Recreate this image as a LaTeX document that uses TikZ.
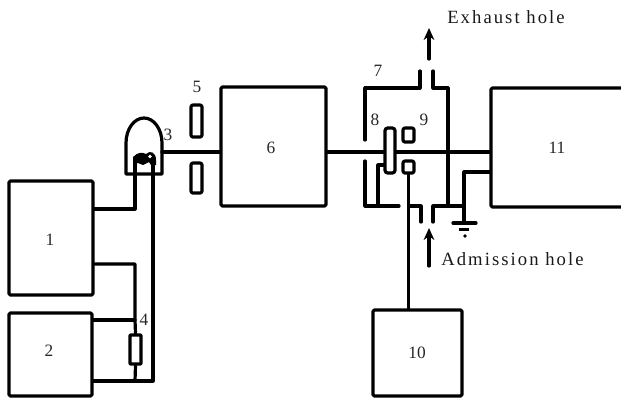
\documentclass[tikz,border=0pt]{standalone}
\usepackage{fontspec}
\setmainfont{Liberation Serif}
\usetikzlibrary{fit,arrows.meta}
\tikzset{
  ink/.style={line width=2.4pt,black,line join=round,line cap=round},
  blockbox/.style={ink,draw,inner sep=0pt,rounded corners=1pt},
  slit/.style={ink,draw,inner sep=0pt,rounded corners=1.5pt},
  lab/.style={inner sep=0pt,font=\fontsize{13}{15}\selectfont,text=black!85},
  captext/.style={inner sep=0pt,font=\fontsize{14}{16}\selectfont\addfontfeatures{LetterSpace=11},text=black!90},
  flow/.style={ink,-{Stealth[length=9pt,width=8pt]}}
}
\begin{document}
\begin{tikzpicture}[x=0.75pt,y=-0.75pt]
\useasboundingbox (0,0) rectangle (621,400);
\begin{scope}
\clip (0,0) rectangle (621,400);
% blocks
\node[blockbox,fit={(9,181)(93,295)}] (b1) {};
\node[blockbox,fit={(9,313)(92,396)}] (b2) {};
\node[blockbox,fit={(221,87)(326,206)}] (b6) {};
\node[blockbox,fit={(491,88)(640,207)}] (b11) {};
\node[blockbox,fit={(373,310)(462,396)}] (b10) {};
% lamp 3
\draw[ink] (126,174) -- (126,143) arc[start angle=180,end angle=360,x radius=18,y radius=25] -- (162,174) -- cycle;
\coordinate (lampout) at (162,152);
\coordinate (lampL) at (135,160);
\coordinate (lampR) at (153,160);
\fill[black] (133,165) -- (133,157) .. controls (138,152) and (142,152) .. (146,154) .. controls (150,150) and (156,152) .. (156,160) -- (156,165) -- (151,165) -- (149,162) -- (143,165) -- (138,163) -- cycle;
\fill[white] (150,156.5) circle[radius=1.8];
% slits 5
\node[slit,fit={(191,105)(202,137)}] (s5a) {};
\node[slit,fit={(191,163)(202,193)}] (s5b) {};
% resistor 4
\node[slit,fit={(130,335)(141,364)},rounded corners=0.5pt] (r4) {};
\coordinate (j4) at (135,320);
\coordinate (j5) at (135,381);
% left wiring
\draw[ink] (b1.east |- 0,209) -- (135,209) -- (lampL);
\draw[ink] (b1.east |- 0,264) -- (135,264) -- (j4) -- (r4.north);
\draw[ink] (b2.east |- 0,320) -- (j4);
\draw[ink] (r4.south) -- (j5);
\draw[ink] (b2.east |- 0,381) -- (j5) -- (153,381) -- (lampR);
\draw[ink] (lampout) -- (b6.west |- lampout);
% chamber 7
\coordinate (exL) at (420,71);
\coordinate (exR) at (433,71);
\coordinate (adL) at (421,222);
\coordinate (adR) at (433,222);
\draw[ink] (365,140) -- (365,88) -- (420,88) -- (exL);
\draw[ink] (exR) -- (433,88) -- (448,88) -- (448,206);
\draw[ink] (365,161) -- (365,206) -- (399,206);
\draw[ink] (410,206) -- (421,206) -- (adL);
\draw[ink] (adR) -- (433,206) -- (464,206);
% electrode 8, plates 9
\node[slit,fit={(385,128)(395,173)},rounded corners=2pt] (e8) {};
\node[slit,fit={(403,128)(414,142)}] (p9a) {};
\node[slit,fit={(403,161)(414,173)}] (p9b) {};
\draw[ink] (b6.east |- 0,152) -- (e8.west |- 0,152);
\draw[ink] (e8.east |- 0,152) -- (b11.west |- 0,152);
\draw[ink] (e8.west |- 0,165) -- (378,165) -- (378,206);
\draw[ink] (p9b.south) -- (b10.north -| p9b.south);
% ground
\coordinate (gnd) at (464,223);
\draw[ink] (b11.west |- 0,172) -- (464,172) -- (gnd);
\draw[ink] (453,223) -- (476,223);
\draw[line width=1.6pt,black] (459,229.5) -- (469,229.5);
\fill[black] (465,236) circle[radius=1.8];
% flow arrows
\coordinate (ex1) at (429,59);
\coordinate (ex2) at (429,28);
\coordinate (ad1) at (429,266);
\coordinate (ad2) at (429,228);
\draw[flow] (ex1) -- (ex2);
\draw[flow] (ad1) -- (ad2);
\end{scope}
% labels
\node[lab] (t1) at (50,240) {1};
\node[lab] (t2) at (49,351) {2};
\node[lab] (t3) at (168,135) {3};
\node[lab] (t4) at (144,320) {4};
\node[lab] (t5) at (197,87) {5};
\node[lab] (t6) at (271,148) {6};
\node[lab] (t7) at (378,71) {7};
\node[lab] (t8) at (375,120) {8};
\node[lab] (t9) at (424,120) {9};
\node[lab] (t10) at (417,353) {10};
\node[lab] (t11) at (557,148) {11};
\node[captext,anchor=west] (tex) at (447,17) {Exhaust hole};
\node[captext,anchor=west] (tad) at (441,259) {Admission hole};
\end{tikzpicture}
\end{document}
